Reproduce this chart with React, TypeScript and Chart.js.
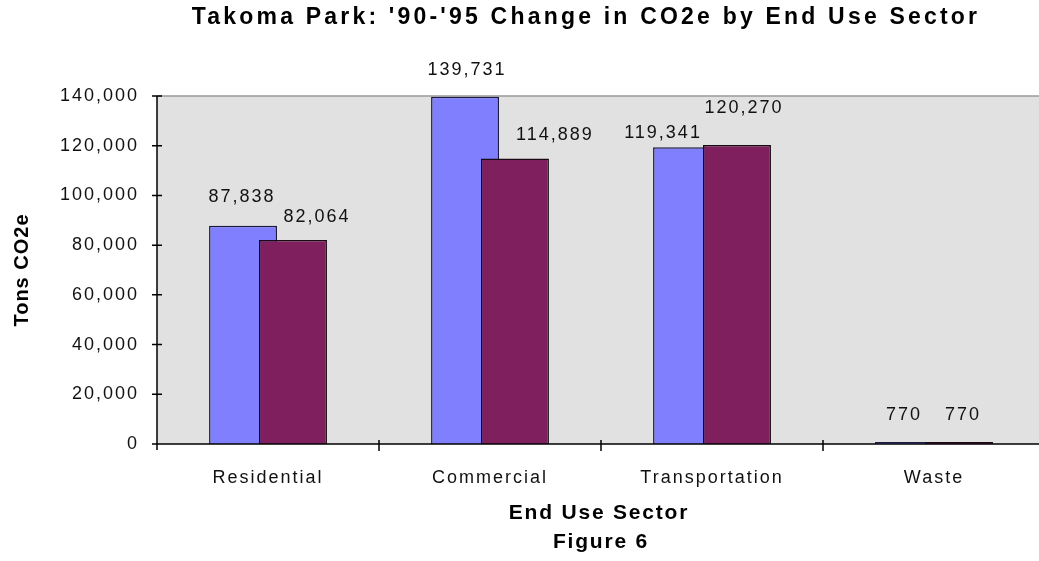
import { useEffect, useRef } from "react";
import { Chart, registerables } from "chart.js";

Chart.register(...registerables);

// Sectors and emissions (tons CO2e) for the two inventory years
const sectors = ["Residential", "Commercial", "Transportation", "Waste"];
const tons1990 = [87838, 139731, 119341, 770];
const tons1995 = [82064, 114889, 120270, 770];

// Value axis
const yMin = 0;
const yMax = 140000;
const yStep = 20000;

// Texts
const titleText = "Takoma Park: '90-'95 Change in CO2e by End Use Sector";
const yTitleText = "Tons CO2e";
const xTitleText = "End Use Sector";
const captionText = "Figure 6";

// Pixel nudges [dx, dy] that keep neighbouring value labels apart
const nudge1990 = [[-2, -3], [1, -1], [-25, 12], [-6, -1]];
const nudge1995 = [[23, 3], [39, 3], [6, -11], [3, -1]];

const FONT = "'Liberation Sans', Arial, sans-serif";
const BLUE = "#8080FF";
const MAROON = "#7F1F5E";

const fmt = (v: number) => v.toLocaleString("en-US");

const framePlugin = {
  id: "framePlugin",
  beforeUpdate(chart: any) {
    chart.ctx.letterSpacing = "2px";
  },
  beforeDraw(chart: any) {
    const { ctx, chartArea: a } = chart;
    ctx.save();
    ctx.fillStyle = "#ffffff";
    ctx.fillRect(0, 0, chart.width, chart.height);
    ctx.fillStyle = "#E1E1E1";
    ctx.fillRect(a.left, a.top, a.right - a.left, a.bottom - a.top);
    ctx.strokeStyle = "#9a9a9a";
    ctx.lineWidth = 1.5;
    ctx.beginPath();
    ctx.moveTo(a.left, a.top);
    ctx.lineTo(a.right, a.top);
    ctx.stroke();
    ctx.restore();
    ctx.letterSpacing = "2px";
  },
  // the 1995 bars are painted after the 1990 ones so they sit on top
  beforeDatasetDraw(_chart: any, args: any) {
    if (args.index === 1) return false;
  },
  afterDatasetsDraw(chart: any) {
    const { ctx, chartArea: a, scales } = chart;
    ctx.save();
    ctx.beginPath();
    ctx.rect(a.left, a.top - 2, a.right - a.left, a.bottom - a.top + 4);
    ctx.clip();
    chart.getDatasetMeta(1).controller.draw();
    ctx.restore();

    // axis lines and crossing tick marks
    ctx.save();
    ctx.strokeStyle = "#000";
    ctx.lineWidth = 1.5;
    ctx.beginPath();
    ctx.moveTo(a.left, a.top);
    ctx.lineTo(a.left, a.bottom + 6);
    ctx.moveTo(a.left - 5, a.bottom);
    ctx.lineTo(a.right, a.bottom);
    const y = scales.y;
    y.ticks.forEach((t: any) => {
      const py = y.getPixelForValue(t.value);
      ctx.moveTo(a.left - 5, py);
      ctx.lineTo(a.left + 5, py);
    });
    const x = scales.x;
    const n = sectors.length;
    const w = (x.right - x.left) / n;
    for (let i = 1; i <= n; i++) {
      const px = Math.round(x.left + i * w);
      ctx.moveTo(px, a.bottom - 4);
      ctx.lineTo(px, a.bottom + 7);
    }
    ctx.stroke();
    ctx.restore();

    // value labels
    ctx.save();
    ctx.letterSpacing = "2px";
    ctx.font = `18px ${FONT}`;
    ctx.fillStyle = "#111";
    ctx.textAlign = "center";
    ctx.textBaseline = "middle";
    [nudge1990, nudge1995].forEach((nudges, di) => {
      const meta = chart.getDatasetMeta(di);
      const values = chart.data.datasets[di].data as number[];
      meta.data.forEach((el: any, i: number) => {
        const [dx, dy] = nudges[i];
        ctx.fillText(fmt(values[i]), el.x + dx + 1, el.y - 26 + dy);
      });
    });
    ctx.restore();
  },
  afterDraw(chart: any) {
    const { ctx, chartArea: a } = chart;
    ctx.save();
    ctx.fillStyle = "#000";
    ctx.textAlign = "center";
    ctx.textBaseline = "middle";

    ctx.letterSpacing = "3.2px";
    ctx.font = `bold 23px ${FONT}`;
    ctx.fillText(titleText, 586, 18);

    ctx.letterSpacing = "1.8px";
    ctx.font = `bold 21px ${FONT}`;
    ctx.fillText(xTitleText, 599, 513);
    ctx.fillText(captionText, 601, 542);

    ctx.save();
    ctx.translate(22, (a.top + a.bottom) / 2);
    ctx.rotate(-Math.PI / 2);
    ctx.letterSpacing = "1px";
    ctx.font = `bold 20px ${FONT}`;
    ctx.fillText(yTitleText, 0, 0);
    ctx.restore();

    ctx.restore();
    ctx.letterSpacing = "2px";
  },
};

export default function App() {
  const canvasRef = useRef<HTMLCanvasElement | null>(null);

  useEffect(() => {
    const canvas = canvasRef.current;
    if (!canvas) return;
    const chart = new Chart(canvas, {
      type: "bar",
      data: {
        labels: sectors,
        datasets: [
          {
            label: "1990",
            data: tons1990,
            backgroundColor: BLUE,
            borderColor: "#1a1a40",
            borderWidth: 1.5,
            categoryPercentage: 0.45,
            barPercentage: 1.36,
          },
          {
            label: "1995",
            data: tons1995,
            backgroundColor: MAROON,
            borderColor: "#1a0a14",
            borderWidth: 1.5,
            categoryPercentage: 0.45,
            barPercentage: 1.36,
          },
        ],
      },
      options: {
        responsive: false,
        animation: false,
        layout: { padding: { top: 96, right: 1, left: 0, bottom: 0 } },
        plugins: {
          legend: { display: false },
          tooltip: { enabled: false },
          title: { display: false },
        },
        scales: {
          x: {
            type: "category",
            offset: true,
            grid: { display: false, drawTicks: false },
            border: { display: false },
            ticks: {
              font: { family: FONT, size: 18 },
              color: "#111",
              padding: 23,
              maxRotation: 0,
              autoSkip: false,
            },
            afterFit: (s: any) => {
              s.height = 117;
            },
          },
          y: {
            min: yMin,
            max: yMax,
            grid: { display: false, drawTicks: false },
            border: { display: false },
            ticks: {
              stepSize: yStep,
              font: { family: FONT, size: 18 },
              color: "#111",
              padding: 18,
              callback: (v: any) => fmt(Number(v)),
            },
            afterFit: (s: any) => {
              s.width = 157;
            },
          },
        },
      },
      plugins: [framePlugin],
    } as any);
    return () => chart.destroy();
  }, []);

  return (
    <div style={{ position: "fixed", left: 0, top: 0, width: 1039, height: 561, overflow: "hidden", background: "#fff" }}>
      <canvas ref={canvasRef} width={1046} height={561} style={{ display: "block" }} />
    </div>
  );
}
